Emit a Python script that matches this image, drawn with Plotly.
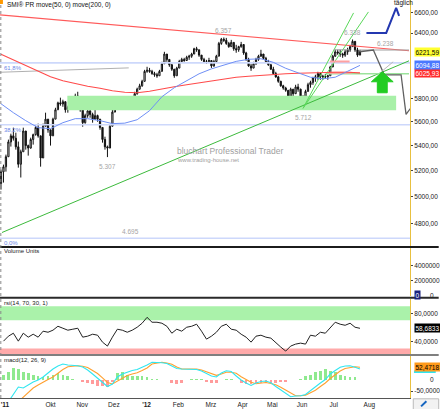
import math
import plotly.graph_objects as go

# ---------------- data ----------------
highs = [5208,5247,5327,5449,5498,5548,5506,5433,5367,5548,
         5490,5408,5465,5498,5565,5582,5424,5582,5675,5607,
         5531,5632,5717,5770,5805,5787,5761,5735,5770,5796,
         5840,5857,5787,5700,5666,5717,5717,5675,5700,5658,
         5615,5531,5473,5400,5573,5700,5787,5796,5805,5813,
         5787,5805,5813,5787,5857,5893,5928,5964,6054,6082,
         6072,6054,6036,6027,6054,6128,6221,6193,6146,6109,
         6054,6082,6146,6165,6165,6184,6193,6212,6259,6268,
         6221,6184,6165,6146,6165,6128,6146,6193,6315,6353,
         6357,6353,6315,6334,6306,6287,6278,6315,6268,6221,
         6165,6109,6128,6165,6193,6240,6193,6174,6146,6109,
         6082,6036,6000,5955,5919,5901,5848,5893,5875,5919,
         5928,5884,5813,5875,5937,5955,5991,6009,6036,6027,
         6009,6018,6009,6091,6193,6240,6240,6240,6212,6240,
         6259,6287,6338,6306,6259,6240]
lows = [5053,5107,5192,5327,5392,5441,5367,5223,5146,5449,
        5367,5319,5375,5408,5482,5465,5231,5449,5590,5506,
        5400,5490,5632,5709,5735,5726,5675,5675,5700,5726,
        5770,5805,5683,5556,5582,5632,5632,5590,5615,5598,
        5531,5424,5367,5307,5433,5590,5700,5717,5735,5761,
        5726,5717,5700,5700,5787,5831,5875,5901,5964,6027,
        6027,6009,5991,5982,6000,6054,6146,6128,6082,6045,
        5982,6018,6082,6118,6128,6137,6146,6165,6212,6221,
        6174,6137,6118,6109,6118,6072,6082,6128,6212,6287,
        6315,6287,6259,6268,6231,6212,6221,6259,6193,6137,
        6082,6045,6082,6100,6137,6174,6146,6118,6091,6054,
        6009,5982,5937,5901,5875,5857,5787,5831,5813,5857,
        5857,5805,5712,5787,5866,5893,5919,5946,5964,5964,
        5964,5973,5964,6018,6100,6174,6193,6174,6165,6174,
        6193,6221,6268,6221,6174,6193]
closes = [5190,5230,5310,5430,5480,5460,5390,5250,5350,5520,
          5400,5380,5450,5490,5550,5480,5300,5560,5620,5530,
          5480,5620,5700,5760,5750,5770,5700,5720,5760,5780,
          5820,5810,5700,5590,5650,5690,5660,5620,5650,5620,
          5550,5450,5390,5380,5560,5680,5760,5740,5790,5770,
          5750,5790,5720,5770,5840,5880,5910,5950,6040,6050,
          6040,6020,6010,6000,6040,6110,6200,6150,6100,6060,
          6000,6070,6130,6150,6140,6170,6180,6200,6250,6240,
          6190,6150,6130,6130,6140,6090,6130,6180,6300,6340,
          6330,6300,6270,6310,6250,6240,6270,6290,6210,6150,
          6090,6070,6110,6150,6180,6200,6160,6130,6100,6060,
          6020,5990,5950,5910,5890,5870,5800,5880,5840,5900,
          5880,5820,5760,5860,5920,5940,5980,5990,6020,5990,
          5995,5990,6000,6080,6180,6220,6210,6200,6190,6220,
          6240,6270,6320,6240,6190,6221.59]
first_open = 5100

# moving averages, one value every 5 periods
ma200 = [6198,6146,6091,6036,5991,5955,5928,5906,5888,5866,
         5853,5848,5862,5884,5901,5919,5937,5950,5973,5987,
         5996,6005,6009,6018,6023,6027,6027,6032,6032,6025.93]
ma50 = [5752,5675,5607,5548,5540,5590,5624,5624,5607,5582,
        5586,5615,5692,5813,5893,5955,6018,6063,6100,6132,
        6151,6156,6123,6068,6027,5987,5973,5987,6041,6094.88]

# indicators, one value every 2 periods
rsi = [40.4,47.5,51.7,40.4,51.7,46.1,50.3,46.1,54.6,53.1,
       56.0,61.6,58.8,56.0,57.4,58.8,46.1,47.5,50.3,48.9,
       39.0,33.4,46.1,57.4,56.0,53.1,56.0,60.2,65.9,74.3,
       67.3,67.3,65.9,61.6,51.7,57.4,54.6,60.2,61.6,64.5,
       54.6,43.3,47.5,53.1,61.6,64.5,57.4,56.0,50.3,46.1,
       39.0,47.5,48.9,46.1,44.7,37.6,32.0,26.3,33.4,36.2,
       37.6,36.2,48.9,47.5,53.1,51.7,58.8,67.3,64.5,63.0,
       65.9,60.2,58.6833]
macd = [None,-95,-62.0,-32.1,-36.3,-23.5,-10.7,-2.1,10.7,27.8,
        44.9,57.7,66.2,62.0,59.8,59.0,53.4,40.6,23.5,6.4,
        -10.7,-29.9,-19.2,10.7,23.5,32.1,38.5,42.7,51.3,62.0,
        73.5,73.5,71.8,68.4,57.7,47.0,44.9,44.9,44.9,42.7,
        36.3,25.6,15.0,10.7,27.8,37.6,34.2,15.0,-2.1,-15.0,
        -25.6,-15.0,-8.5,-6.4,-13.7,-29.9,-44.9,-59.8,-73.5,-70.5,
        -69.2,-64.1,-47.0,-30.8,-15.0,0.0,23.5,38.5,52.1,57.7,
        59.0,52.1,44.9]
signal = [None,None,None,-95,-74.8,-53.4,-36.3,-23.5,-10.7,0.0,
          10.7,27.8,42.7,54.7,57.7,58.5,56.4,51.3,38.5,25.6,
          7.3,-12.8,-19.2,-6.4,5.1,17.1,23.5,29.1,38.5,49.1,
          66.2,70.5,73.5,70.5,65.0,53.4,44.9,44.9,44.9,44.9,
          40.6,32.9,25.6,17.9,23.5,30.8,30.8,26.5,12.0,-0.9,
          -12.0,-17.9,-14.1,-12.8,-17.1,-22.2,-33.3,-44.9,-59.8,-69.2,
          -69.2,-67.5,-56.4,-45.7,-29.9,-15.0,4.3,20.5,36.3,47.0,
          52.1,54.3,52.4718]
hist = [21,34,51,43,34,26,21,13,9,17,
        21,26,21,13,4,0,-9,-17,-21,-26,
        -26,-34,-9,26,30,21,17,13,13,9,
        4,2,0,-4,-13,-21,-13,-4,4,4,
        2,-9,-13,-13,-4,4,2,-4,-13,-21,
        -21,-17,-13,-13,-13,-13,-9,-9,-4,-4,
        4,13,21,30,38,43,38,30,21,13,
        9,9,-4]

# axis ticks / labels
month_pos = [1.6, 20, 32.8, 45.6, 58.8, 71.6, 84.8, 97.6, 109.6, 121.6, 134.4, 148.8]
month_labels = ["<b>'11</b>", "Okt", "Nov", "Dez", "<b>'12</b>", "Feb", "Mrz",
                "Apr", "Mai", "Jun", "Jul", "Aug"]
price_ticks = [4800, 5000, 5200, 5400, 5600, 5800, 6400, 6600]
price_ticktext = ["4800,00", "5000,00", "5200,00", "5400,00", "5600,00",
                  "5800,00", "6400,00", "6600,00"]
rsi_ticks = [40, 80]
rsi_ticktext = ["40,0000", "80,0000"]
macd_ticks = [-50]
macd_ticktext = ["-50,0000"]
vol_ticks = [2000000, 4000000]
vol_ticktext = ["2000000", "4000000"]

# drawing tools (fib, trendlines, zones, projections)
fib_levels = [4695, 5572, 6118]
fib_names = ["0,0%", "38,2%", "61,8%"]
support_zone = (26.8, 159.6, 5695, 5822)
resist_x, resist_y = [-0.4, 164.8], [6577, 6231]
trend_x, trend_y = [0.4, 164.8], [4736, 6137]
chanA_x, chanA_y = [122, 148.4], [5712, 6607]
chanB_x, chanB_y = [122, 142.4], [5712, 6597]
gray_x, gray_y = [-0.4, 51.6], [6032, 6072]
supp_line_x, supp_line_y = [131.6, 164.8], [6018, 6018]
pink1_x, pink1_y = [132.8, 140.8], [6130, 6130]
pink2_x, pink2_y = [132.4, 141.6], [6028, 6028]
target_x, target_y = [144.8, 164.8], [6238, 6238]
top_box_x, top_box_y = [134.4, 140.8], [6240, 6240]
proj_x = [144.8, 150.4, 154.8, 161.6, 163.6, 166.8]
proj_y = [6221.59, 6238, 6009, 6009, 5661, 5752]
proj2_x, proj2_y = [153.6, 158.4], [6036, 6128]
blue_x = [147.6, 155.6, 159.6, 160.8]
blue_y = [6401, 6401, 6647, 6567]
arrow_x = [154, 158.4, 156, 156, 152, 152, 149.6, 154]
arrow_y = [6036, 5946, 5946, 5848, 5848, 5946, 5946, 6036]
pivots = [(90, 6357, "6.357", 7), (142, 6338, "6.338", 7), (122, 5712, "5.712", -9),
          (43, 5307, "5.307", -9), (52.4, 4695, "4.695", 7), (155.2, 6238, "6.238", 7)]

# ---------------- figure ----------------
FONT = "Liberation Sans, Arial, sans-serif"
N = len(closes)
xi = list(range(N))
ma_x = list(range(0, N, 5))
ind_x = list(range(1, N, 2))
opens = [first_open] + closes[:-1]
hi = [max(h, o, c) for h, o, c in zip(highs, opens, closes)]
lo = [min(l, o, c) for l, o, c in zip(lows, opens, closes)]
XR = [-0.4, 165.2]

fig = go.Figure()

def line(x, y, color, width=1, axis=("x", "y"), dash=None):
    fig.add_trace(go.Scatter(x=x, y=y, mode="lines", xaxis=axis[0], yaxis=axis[1],
                             line=dict(color=color, width=width, dash=dash),
                             hoverinfo="skip", showlegend=False))

# support zone
zx0, zx1, zy0, zy1 = support_zone
fig.add_trace(go.Scatter(x=[zx0, zx1, zx1, zx0, zx0], y=[zy0, zy0, zy1, zy1, zy0],
                         fill="toself", fillcolor="#a8f0a8", mode="none",
                         hoverinfo="skip", showlegend=False))
# fib lines
for lv in fib_levels:
    line(XR, [lv, lv], "#cdd8fb", 1.6)
line(gray_x, gray_y, "#b0b0b0", 1)
line(resist_x, resist_y, "#ff5a5a", 1.2)
line(trend_x, trend_y, "#3cba3c", 1)
line(chanA_x, chanA_y, "#5ad85a", 1)
line(chanB_x, chanB_y, "#5ad85a", 1)
line(supp_line_x, supp_line_y, "#9be39b", 1.5)
line(pink1_x, pink1_y, "#ffa0a0", 2)
line(pink2_x, pink2_y, "#ffa0a0", 2)
line(ma_x, ma200, "#ff4a4a", 1.1)
line(ma_x, ma50, "#6f8ff5", 1)
line(target_x, target_y, "#a0a0a0", 1)
line(top_box_x, top_box_y, "#a0a0a0", 1)

fig.add_trace(go.Candlestick(x=xi, open=opens, high=hi, low=lo, close=closes,
                             increasing=dict(line=dict(color="#111", width=1), fillcolor="white"),
                             decreasing=dict(line=dict(color="#111", width=1), fillcolor="#111"),
                             whiskerwidth=0, hoverinfo="skip", showlegend=False))

line(proj_x, proj_y, "#606060", 1.3)
line(proj2_x, proj2_y, "#b8b8b8", 1)
line(blue_x, blue_y, "#2438b0", 2)
fig.add_trace(go.Scatter(x=arrow_x, y=arrow_y, fill="toself", fillcolor="#22cc22",
                         mode="lines", line=dict(color="#22cc22", width=1),
                         hoverinfo="skip", showlegend=False))

# RSI
line(ind_x, rsi, "#222", 1, axis=("x3", "y3"))
# MACD
fig.add_trace(go.Bar(x=ind_x, y=hist, width=1.1, xaxis="x4", yaxis="y4",
                     marker=dict(color=["#8fe98f" if v >= 0 else "#ff9c9c" for v in hist],
                                 line=dict(width=0)),
                     hoverinfo="skip", showlegend=False))
line(ind_x, signal, "#ffa030", 1.1, axis=("x4", "y4"))
line(ind_x, macd, "#30e6f0", 1.1, axis=("x4", "y4"))

# ---------------- layout ----------------
tickfont = dict(family=FONT, size=6.5, color="#222")
def yax(**kw):
    d = dict(side="right", showgrid=False, zeroline=False, showline=True,
             linecolor="#e8c040", linewidth=1, ticks="outside", ticklen=2,
             tickcolor="#444", tickfont=tickfont, fixedrange=True)
    d.update(kw)
    return d
def xax(anchor, show=False):
    return dict(range=XR, domain=[0, 1], anchor=anchor, showgrid=False, zeroline=False,
                showticklabels=show, ticks="", showline=show, linecolor="#555",
                tickvals=month_pos, ticktext=month_labels, tickfont=tickfont,
                ticklabeloverflow="allow",
                rangeslider=dict(visible=False), fixedrange=True)

lo_p, hi_p = 4638, 6727
fig.update_layout(
    width=440, height=409, margin=dict(l=0, r=26, t=0, b=10),
    paper_bgcolor="white", plot_bgcolor="white", showlegend=False,
    xaxis=xax("y"), xaxis2=xax("y2"), xaxis3=xax("y3"), xaxis4=xax("y4", True),
    yaxis=yax(type="log", range=[math.log10(lo_p), math.log10(hi_p)],
              domain=[0.38095, 1], tickvals=price_ticks, ticktext=price_ticktext, anchor="x"),
    yaxis2=yax(range=[-133333, 6266667], domain=[0.25564, 0.37594],
               tickvals=vol_ticks, ticktext=vol_ticktext, anchor="x2"),
    yaxis3=yax(range=[22, 100], domain=[0.11028, 0.24812],
               tickvals=rsi_ticks, ticktext=rsi_ticktext, anchor="x3"),
    yaxis4=yax(range=[-79, 100], domain=[0, 0.10526],
               tickvals=macd_ticks, ticktext=macd_ticktext, anchor="x4"),
    bargap=0,
)

XB = 418 / 414
XE = 440 / 414
shapes = [
    dict(type="rect", xref="paper", yref="y3", x0=0, x1=1, y0=70, y1=90,
         fillcolor="#aaf2aa", line=dict(width=0), layer="below"),
    dict(type="rect", xref="paper", yref="y3", x0=0, x1=1, y0=20, y1=30,
         fillcolor="#ffaaaa", line=dict(width=0), layer="below"),
    # MACD value marker strip (partly hidden behind the signal value box)
    dict(type="rect", xref="paper", yref="y4", x0=XB, x1=XE, y0=macd[-1] - 17,
         y1=macd[-1] - 6, fillcolor="#30e6f0", line=dict(width=0)),
]
for yp, w, c in [(0.3797, 2, "#1c1c1c"), (0.2519, 2, "#2a2a2a"), (0.1078, 1.5, "#555")]:
    shapes.append(dict(type="line", xref="paper", yref="paper", x0=0, x1=1.07,
                       y0=yp, y1=yp, line=dict(color=c, width=w)))
shapes.append(dict(type="line", xref="paper", yref="paper", x0=0.002, x1=0.002,
                   y0=0, y1=1, line=dict(color="#888", width=1, dash="dot")))
shapes.append(dict(type="rect", xref="paper", yref="paper", x0=0, x1=0.0072,
                   y0=0.99, y1=1.0, fillcolor="#ff9900", line=dict(width=0)))
shapes.append(dict(type="rect", xref="paper", yref="paper", x0=1.008, x1=1.07,
                   y0=-0.03, y1=-0.002, fillcolor="#f2f2f2", line=dict(color="#bbb", width=1)))
shapes.append(dict(type="line", xref="paper", yref="paper", x0=1.027, x1=1.04,
                   y0=-0.021, y1=-0.008, line=dict(color="#1565c0", width=2)))
fig.update_layout(shapes=shapes)

ann = []
def txt(text, x, y, xref="paper", yref="paper", size=6, color="#222",
        xanchor="left", yshift=0, **kw):
    ann.append(dict(text=text, x=x, y=y, xref=xref, yref=yref, showarrow=False,
                    xanchor=xanchor, yanchor="middle", yshift=yshift,
                    font=dict(family=FONT, size=size, color=color), **kw))

txt("SMI® PR move(50, 0) move(200, 0)", 0.012, 0.9875, size=6.5, color="#111")
txt("Volume Units", 0.004, 0.3684)
txt("rsi(14, 70, 30, 1)", 0.004, 0.2381)
txt("macd(12, 26, 9)", 0.004, 0.0952)
txt("bluchart Professional Trader", 0.4275, 0.6216, size=8.5, color="#a0a0a0")
txt("www.trading-house.net", 0.4275, 0.599, size=6, color="#a0a0a0")
txt("täglich", 162.4, 0.9925, xref="x", size=6.5, color="#111", xanchor="center")
for lv, nm in zip(fib_levels, fib_names):
    txt(nm, 0.006, math.log10(lv), yref="y", size=6, color="#6a86e6", yshift=-5)
for px, pv, lab, sh in pivots:
    txt(lab, px, math.log10(pv), xref="x", yref="y", size=6.5, color="#a5a5a5",
        xanchor="center", yshift=sh)

def fmt(v, d):
    return f"{v:.{d}f}".replace(".", ",")
boxes = [
    ("y", math.log10(ma200[-1]), fmt(ma200[-1], 2), "#ff2a2a", "white"),
    ("y", math.log10(ma50[-1]), fmt(ma50[-1], 2), "#4a78ff", "white"),
    ("y", math.log10(closes[-1]), fmt(closes[-1], 2), "#ffff30", "black"),
    ("y3", rsi[-1], fmt(rsi[-1], 4), "#000000", "white"),
    ("y4", signal[-1] + 2, fmt(signal[-1], 4), "#ff9a1a", "black"),
    ("y2", 0, "0", "#1a237e", "white"),
]
for yr, yv, t, bg, fc in boxes:
    ann.append(dict(text=t, x=XB, y=yv, xref="paper", yref=yr, showarrow=False,
                    xanchor="left", yanchor="middle", bgcolor=bg, borderpad=0.5,
                    font=dict(family=FONT, size=6.5, color=fc)))
txt("0", XE, 0, yref="y2", size=6.5, xanchor="right")
txt("0", XE, 0, yref="y4", size=6.5, xanchor="right")
fig.update_layout(annotations=ann)

fig.write_html("out.html", config={"displayModeBar": False, "staticPlot": True},
               post_script="document.body.style.margin='0';document.body.style.overflow='hidden';")
